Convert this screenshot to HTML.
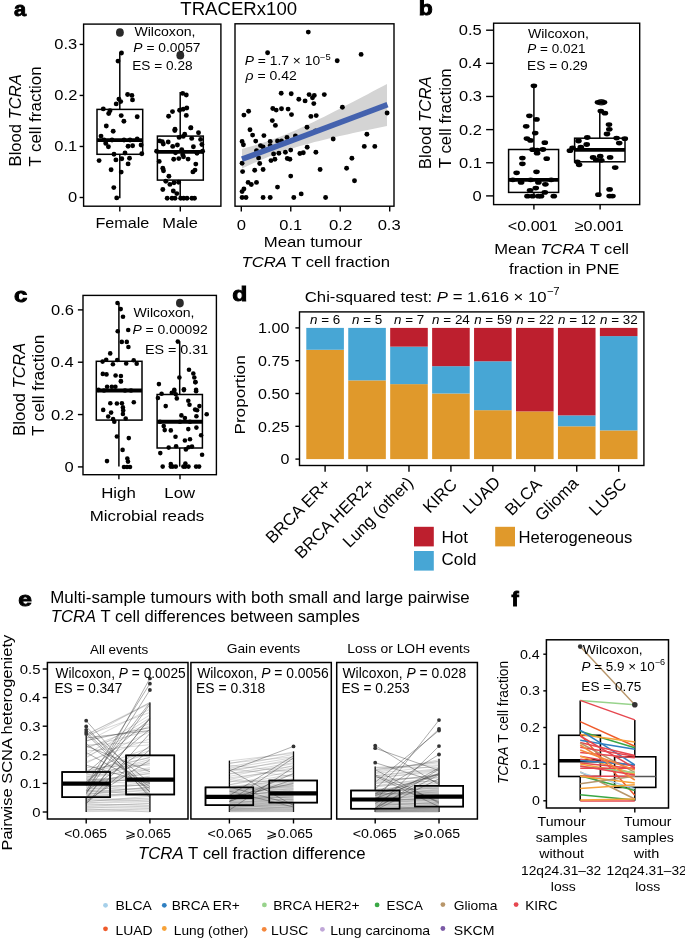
<!DOCTYPE html>
<html><head><meta charset="utf-8"><style>
html,body{margin:0;padding:0;background:#fff;}
svg{display:block;will-change:transform;}
text{font-family:"Liberation Sans", sans-serif;}
</style></head><body>
<svg width="685" height="938" viewBox="0 0 685 938">
<rect width="685" height="938" fill="#fff"/>
<text x="13.96" y="15.80" font-size="20.5" textLength="12.13" lengthAdjust="spacingAndGlyphs" stroke="#000" stroke-width="0.9"><tspan font-weight="bold">a</tspan></text>
<text x="180.31" y="14.80" font-size="19" textLength="116.80" lengthAdjust="spacingAndGlyphs">TRACERx100</text>
<text transform="translate(21.10,166.41) rotate(-90)" font-size="16.5" textLength="92.21" lengthAdjust="spacingAndGlyphs">Blood <tspan font-style="italic">TCRA</tspan></text>
<text transform="translate(41.20,166.81) rotate(-90)" font-size="16.5" textLength="100.55" lengthAdjust="spacingAndGlyphs">T cell fraction</text>
<line x1="79.60" y1="197.50" x2="83.60" y2="197.50" stroke="#000" stroke-width="1.4"/>
<text x="67.92" y="201.80" font-size="15" textLength="9.18" lengthAdjust="spacingAndGlyphs">0</text>
<line x1="79.60" y1="146.47" x2="83.60" y2="146.47" stroke="#000" stroke-width="1.4"/>
<text x="54.28" y="150.77" font-size="15" textLength="22.94" lengthAdjust="spacingAndGlyphs">0.1</text>
<line x1="79.60" y1="95.44" x2="83.60" y2="95.44" stroke="#000" stroke-width="1.4"/>
<text x="54.39" y="99.74" font-size="15" textLength="22.94" lengthAdjust="spacingAndGlyphs">0.2</text>
<line x1="79.60" y1="44.41" x2="83.60" y2="44.41" stroke="#000" stroke-width="1.4"/>
<text x="54.28" y="48.71" font-size="15" textLength="22.94" lengthAdjust="spacingAndGlyphs">0.3</text>
<line x1="119.80" y1="52.20" x2="119.80" y2="109.40" stroke="#000" stroke-width="1.5"/>
<line x1="119.80" y1="154.30" x2="119.80" y2="198.20" stroke="#000" stroke-width="1.5"/>
<rect x="97.00" y="109.40" width="45.70" height="44.90" fill="none" stroke="#000" stroke-width="1.5"/>
<line x1="97.00" y1="140.10" x2="142.70" y2="140.10" stroke="#000" stroke-width="3.8"/>
<line x1="180.20" y1="92.00" x2="180.20" y2="136.10" stroke="#000" stroke-width="1.5"/>
<line x1="180.20" y1="180.10" x2="180.20" y2="198.20" stroke="#000" stroke-width="1.5"/>
<rect x="157.40" y="136.10" width="45.90" height="44.00" fill="none" stroke="#000" stroke-width="1.5"/>
<line x1="157.40" y1="151.90" x2="203.30" y2="151.90" stroke="#000" stroke-width="3.8"/>
<ellipse cx="119.90" cy="32.50" rx="3.9" ry="4.3" fill="#2a2a2a"/>
<ellipse cx="180.30" cy="55.30" rx="3.9" ry="4.3" fill="#2a2a2a"/>
<circle cx="121.50" cy="53.00" r="2.45" fill="#000"/>
<circle cx="118.00" cy="61.10" r="2.45" fill="#000"/>
<circle cx="127.60" cy="94.50" r="2.45" fill="#000"/>
<circle cx="131.90" cy="95.40" r="2.45" fill="#000"/>
<circle cx="132.50" cy="99.90" r="2.45" fill="#000"/>
<circle cx="118.90" cy="99.10" r="2.45" fill="#000"/>
<circle cx="120.70" cy="101.60" r="2.45" fill="#000"/>
<circle cx="116.20" cy="103.90" r="2.45" fill="#000"/>
<circle cx="103.30" cy="108.90" r="2.45" fill="#000"/>
<circle cx="110.00" cy="110.80" r="2.45" fill="#000"/>
<circle cx="108.70" cy="113.50" r="2.45" fill="#000"/>
<circle cx="121.20" cy="115.60" r="2.45" fill="#000"/>
<circle cx="137.20" cy="116.70" r="2.45" fill="#000"/>
<circle cx="123.90" cy="121.20" r="2.45" fill="#000"/>
<circle cx="106.30" cy="126.00" r="2.45" fill="#000"/>
<circle cx="113.20" cy="131.30" r="2.45" fill="#000"/>
<circle cx="101.00" cy="136.10" r="2.45" fill="#000"/>
<circle cx="137.20" cy="138.90" r="2.45" fill="#000"/>
<circle cx="105.80" cy="143.40" r="2.45" fill="#000"/>
<circle cx="108.40" cy="146.80" r="2.45" fill="#000"/>
<circle cx="128.10" cy="146.30" r="2.45" fill="#000"/>
<circle cx="132.60" cy="145.80" r="2.45" fill="#000"/>
<circle cx="141.10" cy="145.00" r="2.45" fill="#000"/>
<circle cx="114.00" cy="154.20" r="2.45" fill="#000"/>
<circle cx="125.00" cy="153.00" r="2.45" fill="#000"/>
<circle cx="141.80" cy="153.80" r="2.45" fill="#000"/>
<circle cx="99.10" cy="160.60" r="2.45" fill="#000"/>
<circle cx="115.90" cy="159.90" r="2.45" fill="#000"/>
<circle cx="121.80" cy="158.80" r="2.45" fill="#000"/>
<circle cx="129.50" cy="158.30" r="2.45" fill="#000"/>
<circle cx="128.10" cy="163.90" r="2.45" fill="#000"/>
<circle cx="111.10" cy="169.80" r="2.45" fill="#000"/>
<circle cx="121.20" cy="172.10" r="2.45" fill="#000"/>
<circle cx="113.80" cy="187.60" r="2.45" fill="#000"/>
<circle cx="116.70" cy="197.90" r="2.45" fill="#000"/>
<circle cx="104.00" cy="140.00" r="2.45" fill="#000"/>
<circle cx="112.00" cy="140.00" r="2.45" fill="#000"/>
<circle cx="124.00" cy="140.00" r="2.45" fill="#000"/>
<circle cx="130.00" cy="140.00" r="2.45" fill="#000"/>
<circle cx="182.70" cy="93.40" r="2.45" fill="#000"/>
<circle cx="186.30" cy="95.00" r="2.45" fill="#000"/>
<circle cx="179.60" cy="110.30" r="2.45" fill="#000"/>
<circle cx="183.20" cy="109.30" r="2.45" fill="#000"/>
<circle cx="186.80" cy="108.00" r="2.45" fill="#000"/>
<circle cx="172.50" cy="111.60" r="2.45" fill="#000"/>
<circle cx="168.60" cy="116.20" r="2.45" fill="#000"/>
<circle cx="186.30" cy="115.40" r="2.45" fill="#000"/>
<circle cx="175.00" cy="129.20" r="2.45" fill="#000"/>
<circle cx="190.90" cy="127.70" r="2.45" fill="#000"/>
<circle cx="174.80" cy="130.50" r="2.45" fill="#000"/>
<circle cx="190.70" cy="127.90" r="2.45" fill="#000"/>
<circle cx="198.50" cy="132.80" r="2.45" fill="#000"/>
<circle cx="184.70" cy="134.30" r="2.45" fill="#000"/>
<circle cx="183.20" cy="136.40" r="2.45" fill="#000"/>
<circle cx="179.10" cy="137.40" r="2.45" fill="#000"/>
<circle cx="191.70" cy="138.40" r="2.45" fill="#000"/>
<circle cx="200.60" cy="139.40" r="2.45" fill="#000"/>
<circle cx="159.70" cy="140.90" r="2.45" fill="#000"/>
<circle cx="162.30" cy="141.70" r="2.45" fill="#000"/>
<circle cx="163.30" cy="144.00" r="2.45" fill="#000"/>
<circle cx="168.20" cy="142.00" r="2.45" fill="#000"/>
<circle cx="172.70" cy="146.40" r="2.45" fill="#000"/>
<circle cx="177.40" cy="145.00" r="2.45" fill="#000"/>
<circle cx="193.40" cy="146.80" r="2.45" fill="#000"/>
<circle cx="201.90" cy="144.50" r="2.45" fill="#000"/>
<circle cx="156.60" cy="151.20" r="2.45" fill="#000"/>
<circle cx="175.50" cy="152.70" r="2.45" fill="#000"/>
<circle cx="181.70" cy="149.60" r="2.45" fill="#000"/>
<circle cx="182.70" cy="154.70" r="2.45" fill="#000"/>
<circle cx="197.00" cy="153.20" r="2.45" fill="#000"/>
<circle cx="202.60" cy="151.20" r="2.45" fill="#000"/>
<circle cx="183.50" cy="156.80" r="2.45" fill="#000"/>
<circle cx="173.70" cy="159.30" r="2.45" fill="#000"/>
<circle cx="178.80" cy="158.60" r="2.45" fill="#000"/>
<circle cx="188.10" cy="159.10" r="2.45" fill="#000"/>
<circle cx="159.20" cy="161.40" r="2.45" fill="#000"/>
<circle cx="195.80" cy="164.10" r="2.45" fill="#000"/>
<circle cx="162.80" cy="168.20" r="2.45" fill="#000"/>
<circle cx="163.50" cy="170.80" r="2.45" fill="#000"/>
<circle cx="195.00" cy="170.10" r="2.45" fill="#000"/>
<circle cx="192.90" cy="171.90" r="2.45" fill="#000"/>
<circle cx="168.90" cy="176.20" r="2.45" fill="#000"/>
<circle cx="165.80" cy="181.30" r="2.45" fill="#000"/>
<circle cx="169.90" cy="184.40" r="2.45" fill="#000"/>
<circle cx="174.00" cy="182.80" r="2.45" fill="#000"/>
<circle cx="178.60" cy="182.30" r="2.45" fill="#000"/>
<circle cx="162.80" cy="189.50" r="2.45" fill="#000"/>
<circle cx="173.30" cy="191.00" r="2.45" fill="#000"/>
<circle cx="176.80" cy="193.60" r="2.45" fill="#000"/>
<circle cx="167.20" cy="198.20" r="2.45" fill="#000"/>
<circle cx="172.00" cy="198.20" r="2.45" fill="#000"/>
<circle cx="175.00" cy="198.20" r="2.45" fill="#000"/>
<circle cx="180.70" cy="198.20" r="2.45" fill="#000"/>
<circle cx="183.70" cy="198.20" r="2.45" fill="#000"/>
<circle cx="187.00" cy="198.20" r="2.45" fill="#000"/>
<circle cx="191.90" cy="198.20" r="2.45" fill="#000"/>
<circle cx="194.50" cy="198.20" r="2.45" fill="#000"/>
<rect x="83.60" y="24.10" width="137.30" height="182.10" fill="none" stroke="#000" stroke-width="1.4"/>
<line x1="119.80" y1="206.20" x2="119.80" y2="211.50" stroke="#000" stroke-width="1.4"/>
<line x1="180.30" y1="206.20" x2="180.30" y2="211.50" stroke="#000" stroke-width="1.4"/>
<text x="95.41" y="228.40" font-size="15" textLength="53.96" lengthAdjust="spacingAndGlyphs">Female</text>
<text x="162.29" y="228.40" font-size="15" textLength="35.58" lengthAdjust="spacingAndGlyphs">Male</text>
<text x="134.40" y="36.00" font-size="13" textLength="61.14" lengthAdjust="spacingAndGlyphs">Wilcoxon,</text>
<text x="133.38" y="51.80" font-size="13" textLength="67.11" lengthAdjust="spacingAndGlyphs"><tspan font-style="italic">P</tspan> = 0.0057</text>
<text x="132.25" y="69.50" font-size="13" textLength="60.34" lengthAdjust="spacingAndGlyphs">ES = 0.28</text>
<polygon points="242.0,148.9 246.8,147.5 251.7,146.2 256.5,144.8 261.3,143.3 266.2,141.7 271.0,140.1 275.8,138.3 280.7,136.5 285.5,134.5 290.3,132.5 295.2,130.4 300.0,128.3 304.8,126.1 309.7,123.8 314.5,121.5 319.3,119.1 324.2,116.7 329.0,114.3 333.8,111.8 338.7,109.3 343.5,106.8 348.3,104.3 353.2,101.8 358.0,99.3 362.8,96.7 367.7,94.2 372.5,91.6 377.3,89.1 382.2,86.5 387.0,83.9 387.0,125.9 382.2,126.9 377.3,127.9 372.5,128.9 367.7,130.0 362.8,131.0 358.0,132.0 353.2,133.1 348.3,134.2 343.5,135.2 338.7,136.3 333.8,137.4 329.0,138.6 324.2,139.7 319.3,140.9 314.5,142.1 309.7,143.4 304.8,144.7 300.0,146.1 295.2,147.5 290.3,149.0 285.5,150.6 280.7,152.2 275.8,154.0 271.0,155.8 266.2,157.8 261.3,159.8 256.5,161.9 251.7,164.0 246.8,166.3 242.0,168.5" fill="#d4d4d4"/>
<circle cx="308.30" cy="32.10" r="2.45" fill="#000"/>
<circle cx="267.60" cy="52.80" r="2.45" fill="#000"/>
<circle cx="337.20" cy="60.70" r="2.45" fill="#000"/>
<circle cx="361.10" cy="54.40" r="2.45" fill="#000"/>
<circle cx="281.20" cy="93.30" r="2.45" fill="#000"/>
<circle cx="291.20" cy="93.80" r="2.45" fill="#000"/>
<circle cx="298.80" cy="99.30" r="2.45" fill="#000"/>
<circle cx="305.10" cy="100.90" r="2.45" fill="#000"/>
<circle cx="309.10" cy="94.60" r="2.45" fill="#000"/>
<circle cx="312.50" cy="97.80" r="2.45" fill="#000"/>
<circle cx="314.30" cy="95.40" r="2.45" fill="#000"/>
<circle cx="313.80" cy="103.60" r="2.45" fill="#000"/>
<circle cx="324.30" cy="94.60" r="2.45" fill="#000"/>
<circle cx="342.40" cy="107.20" r="2.45" fill="#000"/>
<circle cx="387.10" cy="113.00" r="2.45" fill="#000"/>
<circle cx="243.90" cy="115.10" r="2.45" fill="#000"/>
<circle cx="248.60" cy="111.20" r="2.45" fill="#000"/>
<circle cx="272.80" cy="108.50" r="2.45" fill="#000"/>
<circle cx="276.20" cy="110.10" r="2.45" fill="#000"/>
<circle cx="281.50" cy="108.80" r="2.45" fill="#000"/>
<circle cx="288.10" cy="109.10" r="2.45" fill="#000"/>
<circle cx="291.50" cy="114.60" r="2.45" fill="#000"/>
<circle cx="310.90" cy="116.40" r="2.45" fill="#000"/>
<circle cx="316.20" cy="115.60" r="2.45" fill="#000"/>
<circle cx="272.30" cy="120.60" r="2.45" fill="#000"/>
<circle cx="275.40" cy="125.40" r="2.45" fill="#000"/>
<circle cx="250.00" cy="129.80" r="2.45" fill="#000"/>
<circle cx="252.60" cy="135.10" r="2.45" fill="#000"/>
<circle cx="263.90" cy="135.60" r="2.45" fill="#000"/>
<circle cx="242.10" cy="141.40" r="2.45" fill="#000"/>
<circle cx="243.40" cy="144.80" r="2.45" fill="#000"/>
<circle cx="255.70" cy="141.10" r="2.45" fill="#000"/>
<circle cx="260.50" cy="145.60" r="2.45" fill="#000"/>
<circle cx="263.10" cy="146.90" r="2.45" fill="#000"/>
<circle cx="270.20" cy="141.40" r="2.45" fill="#000"/>
<circle cx="270.20" cy="145.60" r="2.45" fill="#000"/>
<circle cx="277.50" cy="140.90" r="2.45" fill="#000"/>
<circle cx="281.50" cy="140.90" r="2.45" fill="#000"/>
<circle cx="287.00" cy="137.40" r="2.45" fill="#000"/>
<circle cx="295.40" cy="135.90" r="2.45" fill="#000"/>
<circle cx="307.00" cy="127.20" r="2.45" fill="#000"/>
<circle cx="315.60" cy="130.90" r="2.45" fill="#000"/>
<circle cx="333.20" cy="139.00" r="2.45" fill="#000"/>
<circle cx="366.90" cy="134.30" r="2.45" fill="#000"/>
<circle cx="364.30" cy="146.40" r="2.45" fill="#000"/>
<circle cx="374.80" cy="146.40" r="2.45" fill="#000"/>
<circle cx="256.50" cy="150.60" r="2.45" fill="#000"/>
<circle cx="258.60" cy="157.90" r="2.45" fill="#000"/>
<circle cx="273.60" cy="154.00" r="2.45" fill="#000"/>
<circle cx="278.90" cy="153.20" r="2.45" fill="#000"/>
<circle cx="285.40" cy="152.20" r="2.45" fill="#000"/>
<circle cx="290.70" cy="150.10" r="2.45" fill="#000"/>
<circle cx="299.90" cy="153.50" r="2.45" fill="#000"/>
<circle cx="303.30" cy="152.70" r="2.45" fill="#000"/>
<circle cx="307.20" cy="147.20" r="2.45" fill="#000"/>
<circle cx="315.90" cy="152.20" r="2.45" fill="#000"/>
<circle cx="274.90" cy="159.30" r="2.45" fill="#000"/>
<circle cx="271.00" cy="160.60" r="2.45" fill="#000"/>
<circle cx="287.30" cy="158.50" r="2.45" fill="#000"/>
<circle cx="289.90" cy="159.30" r="2.45" fill="#000"/>
<circle cx="242.10" cy="163.20" r="2.45" fill="#000"/>
<circle cx="259.70" cy="163.50" r="2.45" fill="#000"/>
<circle cx="242.60" cy="171.60" r="2.45" fill="#000"/>
<circle cx="254.70" cy="170.30" r="2.45" fill="#000"/>
<circle cx="263.10" cy="169.50" r="2.45" fill="#000"/>
<circle cx="320.10" cy="169.50" r="2.45" fill="#000"/>
<circle cx="346.60" cy="168.20" r="2.45" fill="#000"/>
<circle cx="351.90" cy="158.20" r="2.45" fill="#000"/>
<circle cx="290.70" cy="176.10" r="2.45" fill="#000"/>
<circle cx="354.50" cy="180.80" r="2.45" fill="#000"/>
<circle cx="248.10" cy="182.40" r="2.45" fill="#000"/>
<circle cx="251.30" cy="184.50" r="2.45" fill="#000"/>
<circle cx="256.50" cy="182.40" r="2.45" fill="#000"/>
<circle cx="277.50" cy="187.10" r="2.45" fill="#000"/>
<circle cx="243.90" cy="188.90" r="2.45" fill="#000"/>
<circle cx="242.10" cy="191.60" r="2.45" fill="#000"/>
<circle cx="242.10" cy="197.50" r="2.45" fill="#000"/>
<circle cx="246.00" cy="197.50" r="2.45" fill="#000"/>
<circle cx="263.10" cy="197.50" r="2.45" fill="#000"/>
<circle cx="270.20" cy="197.50" r="2.45" fill="#000"/>
<circle cx="293.80" cy="197.50" r="2.45" fill="#000"/>
<circle cx="301.20" cy="193.90" r="2.45" fill="#000"/>
<circle cx="325.60" cy="197.50" r="2.45" fill="#000"/>
<line x1="242.00" y1="159.20" x2="387.50" y2="104.70" stroke="#4462ae" stroke-width="5.6"/>
<rect x="235.00" y="23.80" width="159.00" height="182.40" fill="none" stroke="#000" stroke-width="1.4"/>
<line x1="241.30" y1="206.20" x2="241.30" y2="211.50" stroke="#000" stroke-width="1.4"/>
<line x1="290.77" y1="206.20" x2="290.77" y2="211.50" stroke="#000" stroke-width="1.4"/>
<line x1="340.24" y1="206.20" x2="340.24" y2="211.50" stroke="#000" stroke-width="1.4"/>
<line x1="389.71" y1="206.20" x2="389.71" y2="211.50" stroke="#000" stroke-width="1.4"/>
<text x="236.85" y="229.90" font-size="15" textLength="9.26" lengthAdjust="spacingAndGlyphs">0</text>
<text x="279.25" y="229.90" font-size="15" textLength="22.86" lengthAdjust="spacingAndGlyphs">0.1</text>
<text x="329.04" y="229.90" font-size="15" textLength="23.30" lengthAdjust="spacingAndGlyphs">0.2</text>
<text x="377.65" y="229.90" font-size="15" textLength="23.07" lengthAdjust="spacingAndGlyphs">0.3</text>
<text x="263.74" y="246.80" font-size="14.7" textLength="98.50" lengthAdjust="spacingAndGlyphs">Mean tumour</text>
<text x="241.53" y="266.50" font-size="14.7" textLength="148.47" lengthAdjust="spacingAndGlyphs"><tspan font-style="italic">TCRA</tspan> T cell fraction</text>
<text x="244.77" y="64.80" font-size="12.5" textLength="86.07" lengthAdjust="spacingAndGlyphs"><tspan font-style="italic">P</tspan> = 1.7 × 10<tspan dy="-5.25" font-size="8.50">−5</tspan></text>
<text x="245.55" y="79.70" font-size="12.5" textLength="51.25" lengthAdjust="spacingAndGlyphs"><tspan font-style="italic">ρ</tspan> = 0.42</text>
<text x="418.65" y="15.30" font-size="20.5" textLength="13.97" lengthAdjust="spacingAndGlyphs" stroke="#000" stroke-width="0.9"><tspan font-weight="bold">b</tspan></text>
<line x1="486.10" y1="195.90" x2="493.60" y2="195.90" stroke="#000" stroke-width="1.4"/>
<text x="472.62" y="200.90" font-size="15" textLength="9.18" lengthAdjust="spacingAndGlyphs">0</text>
<line x1="486.10" y1="162.76" x2="493.60" y2="162.76" stroke="#000" stroke-width="1.4"/>
<text x="458.98" y="167.76" font-size="15" textLength="22.94" lengthAdjust="spacingAndGlyphs">0.1</text>
<line x1="486.10" y1="129.62" x2="493.60" y2="129.62" stroke="#000" stroke-width="1.4"/>
<text x="459.09" y="134.62" font-size="15" textLength="22.94" lengthAdjust="spacingAndGlyphs">0.2</text>
<line x1="486.10" y1="96.48" x2="493.60" y2="96.48" stroke="#000" stroke-width="1.4"/>
<text x="458.98" y="101.48" font-size="15" textLength="22.94" lengthAdjust="spacingAndGlyphs">0.3</text>
<line x1="486.10" y1="63.34" x2="493.60" y2="63.34" stroke="#000" stroke-width="1.4"/>
<text x="458.65" y="68.34" font-size="15" textLength="22.94" lengthAdjust="spacingAndGlyphs">0.4</text>
<line x1="486.10" y1="30.20" x2="493.60" y2="30.20" stroke="#000" stroke-width="1.4"/>
<text x="458.87" y="35.20" font-size="15" textLength="22.94" lengthAdjust="spacingAndGlyphs">0.5</text>
<text transform="translate(431.30,169.22) rotate(-90)" font-size="16.5" textLength="92.82" lengthAdjust="spacingAndGlyphs">Blood <tspan font-style="italic">TCRA</tspan></text>
<text transform="translate(451.00,168.21) rotate(-90)" font-size="16.5" textLength="99.84" lengthAdjust="spacingAndGlyphs">T cell fraction</text>
<line x1="533.90" y1="85.80" x2="533.90" y2="149.50" stroke="#000" stroke-width="1.5"/>
<line x1="533.90" y1="192.40" x2="533.90" y2="195.80" stroke="#000" stroke-width="1.5"/>
<rect x="508.60" y="149.50" width="50.00" height="42.90" fill="none" stroke="#000" stroke-width="1.5"/>
<line x1="508.60" y1="179.80" x2="558.60" y2="179.80" stroke="#000" stroke-width="3.8"/>
<line x1="599.80" y1="112.30" x2="599.80" y2="138.20" stroke="#000" stroke-width="1.5"/>
<line x1="599.80" y1="161.80" x2="599.80" y2="195.80" stroke="#000" stroke-width="1.5"/>
<rect x="574.60" y="138.20" width="50.40" height="23.60" fill="none" stroke="#000" stroke-width="1.5"/>
<line x1="574.60" y1="149.80" x2="625.00" y2="149.80" stroke="#000" stroke-width="3.8"/>
<ellipse cx="601.30" cy="102.30" rx="4.5" ry="3.2" fill="#2a2a2a"/>
<ellipse cx="533.90" cy="85.80" rx="3.3" ry="2.4" fill="#000"/>
<ellipse cx="529.40" cy="115.80" rx="3.3" ry="2.4" fill="#000"/>
<ellipse cx="536.50" cy="119.40" rx="3.3" ry="2.4" fill="#000"/>
<ellipse cx="526.20" cy="126.30" rx="3.3" ry="2.4" fill="#000"/>
<ellipse cx="535.20" cy="133.10" rx="3.3" ry="2.4" fill="#000"/>
<ellipse cx="526.90" cy="138.60" rx="3.3" ry="2.4" fill="#000"/>
<ellipse cx="530.50" cy="140.40" rx="3.3" ry="2.4" fill="#000"/>
<ellipse cx="544.80" cy="142.70" rx="3.3" ry="2.4" fill="#000"/>
<ellipse cx="532.60" cy="149.70" rx="3.3" ry="2.4" fill="#000"/>
<ellipse cx="537.10" cy="150.10" rx="3.3" ry="2.4" fill="#000"/>
<ellipse cx="542.90" cy="149.50" rx="3.3" ry="2.4" fill="#000"/>
<ellipse cx="537.10" cy="153.20" rx="3.3" ry="2.4" fill="#000"/>
<ellipse cx="522.40" cy="158.10" rx="3.3" ry="2.4" fill="#000"/>
<ellipse cx="546.70" cy="158.70" rx="3.3" ry="2.4" fill="#000"/>
<ellipse cx="522.40" cy="163.80" rx="3.3" ry="2.4" fill="#000"/>
<ellipse cx="516.60" cy="172.80" rx="3.3" ry="2.4" fill="#000"/>
<ellipse cx="536.50" cy="171.80" rx="3.3" ry="2.4" fill="#000"/>
<ellipse cx="512.80" cy="179.80" rx="3.3" ry="2.4" fill="#000"/>
<ellipse cx="521.10" cy="182.40" rx="3.3" ry="2.4" fill="#000"/>
<ellipse cx="530.70" cy="179.80" rx="3.3" ry="2.4" fill="#000"/>
<ellipse cx="538.40" cy="182.40" rx="3.3" ry="2.4" fill="#000"/>
<ellipse cx="545.40" cy="184.30" rx="3.3" ry="2.4" fill="#000"/>
<ellipse cx="551.20" cy="179.80" rx="3.3" ry="2.4" fill="#000"/>
<ellipse cx="535.80" cy="188.10" rx="3.3" ry="2.4" fill="#000"/>
<ellipse cx="530.10" cy="190.30" rx="3.3" ry="2.4" fill="#000"/>
<ellipse cx="544.80" cy="192.40" rx="3.3" ry="2.4" fill="#000"/>
<ellipse cx="527.50" cy="196.20" rx="3.3" ry="2.4" fill="#000"/>
<ellipse cx="532.60" cy="196.20" rx="3.3" ry="2.4" fill="#000"/>
<ellipse cx="538.40" cy="196.20" rx="3.3" ry="2.4" fill="#000"/>
<ellipse cx="541.00" cy="196.20" rx="3.3" ry="2.4" fill="#000"/>
<ellipse cx="553.80" cy="196.20" rx="3.3" ry="2.4" fill="#000"/>
<ellipse cx="600.80" cy="111.10" rx="3.3" ry="2.4" fill="#000"/>
<ellipse cx="604.90" cy="113.20" rx="3.3" ry="2.4" fill="#000"/>
<ellipse cx="609.00" cy="124.60" rx="3.3" ry="2.4" fill="#000"/>
<ellipse cx="609.30" cy="129.30" rx="3.3" ry="2.4" fill="#000"/>
<ellipse cx="607.00" cy="134.00" rx="3.3" ry="2.4" fill="#000"/>
<ellipse cx="587.30" cy="137.50" rx="3.3" ry="2.4" fill="#000"/>
<ellipse cx="616.60" cy="138.10" rx="3.3" ry="2.4" fill="#000"/>
<ellipse cx="624.80" cy="138.70" rx="3.3" ry="2.4" fill="#000"/>
<ellipse cx="578.50" cy="141.00" rx="3.3" ry="2.4" fill="#000"/>
<ellipse cx="619.20" cy="143.10" rx="3.3" ry="2.4" fill="#000"/>
<ellipse cx="586.70" cy="144.50" rx="3.3" ry="2.4" fill="#000"/>
<ellipse cx="580.80" cy="147.20" rx="3.3" ry="2.4" fill="#000"/>
<ellipse cx="572.60" cy="148.00" rx="3.3" ry="2.4" fill="#000"/>
<ellipse cx="569.90" cy="150.70" rx="3.3" ry="2.4" fill="#000"/>
<ellipse cx="593.10" cy="157.40" rx="3.3" ry="2.4" fill="#000"/>
<ellipse cx="600.20" cy="156.20" rx="3.3" ry="2.4" fill="#000"/>
<ellipse cx="596.10" cy="159.80" rx="3.3" ry="2.4" fill="#000"/>
<ellipse cx="601.30" cy="160.30" rx="3.3" ry="2.4" fill="#000"/>
<ellipse cx="610.10" cy="157.40" rx="3.3" ry="2.4" fill="#000"/>
<ellipse cx="577.30" cy="161.80" rx="3.3" ry="2.4" fill="#000"/>
<ellipse cx="579.10" cy="164.80" rx="3.3" ry="2.4" fill="#000"/>
<ellipse cx="615.20" cy="167.60" rx="3.3" ry="2.4" fill="#000"/>
<ellipse cx="609.60" cy="189.40" rx="3.3" ry="2.4" fill="#000"/>
<ellipse cx="598.40" cy="194.70" rx="3.3" ry="2.4" fill="#000"/>
<ellipse cx="609.60" cy="196.10" rx="3.3" ry="2.4" fill="#000"/>
<ellipse cx="612.50" cy="196.10" rx="3.3" ry="2.4" fill="#000"/>
<ellipse cx="598.00" cy="102.30" rx="3.3" ry="2.4" fill="#000"/>
<ellipse cx="604.00" cy="102.30" rx="3.3" ry="2.4" fill="#000"/>
<rect x="493.60" y="23.20" width="146.10" height="181.40" fill="none" stroke="#000" stroke-width="1.4"/>
<line x1="533.90" y1="204.60" x2="533.90" y2="209.40" stroke="#000" stroke-width="1.4"/>
<line x1="600.10" y1="204.60" x2="600.10" y2="209.40" stroke="#000" stroke-width="1.4"/>
<text x="507.85" y="230.80" font-size="15" textLength="49.59" lengthAdjust="spacingAndGlyphs">&lt;0.001</text>
<text x="574.57" y="230.80" font-size="15" textLength="49.25" lengthAdjust="spacingAndGlyphs">≥0.001</text>
<text x="494.17" y="253.80" font-size="15" textLength="134.81" lengthAdjust="spacingAndGlyphs">Mean <tspan font-style="italic">TCRA</tspan> T cell</text>
<text x="509.08" y="273.90" font-size="15" textLength="110.33" lengthAdjust="spacingAndGlyphs">fraction in PNE</text>
<text x="527.90" y="37.80" font-size="12.8" textLength="60.99" lengthAdjust="spacingAndGlyphs">Wilcoxon,</text>
<text x="527.28" y="52.60" font-size="12.8" textLength="58.21" lengthAdjust="spacingAndGlyphs"><tspan font-style="italic">P</tspan> = 0.021</text>
<text x="527.13" y="70.10" font-size="12.8" textLength="60.58" lengthAdjust="spacingAndGlyphs">ES = 0.29</text>
<text x="13.96" y="301.70" font-size="20.5" textLength="13.34" lengthAdjust="spacingAndGlyphs" stroke="#000" stroke-width="0.9"><tspan font-weight="bold">c</tspan></text>
<line x1="77.90" y1="466.90" x2="83.00" y2="466.90" stroke="#000" stroke-width="1.4"/>
<text x="64.62" y="471.90" font-size="15" textLength="9.18" lengthAdjust="spacingAndGlyphs">0</text>
<line x1="77.90" y1="414.56" x2="83.00" y2="414.56" stroke="#000" stroke-width="1.4"/>
<text x="51.09" y="419.56" font-size="15" textLength="22.94" lengthAdjust="spacingAndGlyphs">0.2</text>
<line x1="77.90" y1="362.22" x2="83.00" y2="362.22" stroke="#000" stroke-width="1.4"/>
<text x="50.65" y="367.22" font-size="15" textLength="22.94" lengthAdjust="spacingAndGlyphs">0.4</text>
<line x1="77.90" y1="309.88" x2="83.00" y2="309.88" stroke="#000" stroke-width="1.4"/>
<text x="50.98" y="314.88" font-size="15" textLength="22.94" lengthAdjust="spacingAndGlyphs">0.6</text>
<text transform="translate(24.90,436.02) rotate(-90)" font-size="16.5" textLength="93.23" lengthAdjust="spacingAndGlyphs">Blood <tspan font-style="italic">TCRA</tspan></text>
<text transform="translate(43.60,436.01) rotate(-90)" font-size="16.5" textLength="101.16" lengthAdjust="spacingAndGlyphs">T cell fraction</text>
<line x1="118.90" y1="303.00" x2="118.90" y2="361.30" stroke="#000" stroke-width="1.5"/>
<line x1="118.90" y1="420.10" x2="118.90" y2="466.60" stroke="#000" stroke-width="1.5"/>
<rect x="96.30" y="361.30" width="45.70" height="58.80" fill="none" stroke="#000" stroke-width="1.5"/>
<line x1="96.30" y1="390.40" x2="142.00" y2="390.40" stroke="#000" stroke-width="4.0"/>
<line x1="179.70" y1="341.30" x2="179.70" y2="394.50" stroke="#000" stroke-width="1.5"/>
<line x1="179.70" y1="448.00" x2="179.70" y2="466.60" stroke="#000" stroke-width="1.5"/>
<rect x="157.10" y="394.50" width="45.30" height="53.50" fill="none" stroke="#000" stroke-width="1.5"/>
<line x1="157.10" y1="421.70" x2="202.40" y2="421.70" stroke="#000" stroke-width="4.0"/>
<ellipse cx="179.90" cy="303.10" rx="3.9" ry="4.3" fill="#2a2a2a"/>
<circle cx="117.50" cy="303.00" r="2.3" fill="#000"/>
<circle cx="120.70" cy="309.10" r="2.3" fill="#000"/>
<circle cx="123.00" cy="316.80" r="2.3" fill="#000"/>
<circle cx="117.70" cy="331.20" r="2.3" fill="#000"/>
<circle cx="128.20" cy="330.00" r="2.3" fill="#000"/>
<circle cx="121.80" cy="341.90" r="2.3" fill="#000"/>
<circle cx="126.80" cy="341.90" r="2.3" fill="#000"/>
<circle cx="128.40" cy="347.00" r="2.3" fill="#000"/>
<circle cx="110.20" cy="353.40" r="2.3" fill="#000"/>
<circle cx="102.60" cy="361.60" r="2.3" fill="#000"/>
<circle cx="106.20" cy="359.80" r="2.3" fill="#000"/>
<circle cx="112.90" cy="364.30" r="2.3" fill="#000"/>
<circle cx="117.20" cy="360.00" r="2.3" fill="#000"/>
<circle cx="126.20" cy="363.50" r="2.3" fill="#000"/>
<circle cx="133.70" cy="360.20" r="2.3" fill="#000"/>
<circle cx="136.70" cy="363.70" r="2.3" fill="#000"/>
<circle cx="102.80" cy="373.90" r="2.3" fill="#000"/>
<circle cx="106.50" cy="374.40" r="2.3" fill="#000"/>
<circle cx="115.60" cy="375.50" r="2.3" fill="#000"/>
<circle cx="120.90" cy="376.00" r="2.3" fill="#000"/>
<circle cx="120.90" cy="381.10" r="2.3" fill="#000"/>
<circle cx="107.10" cy="386.70" r="2.3" fill="#000"/>
<circle cx="111.80" cy="386.70" r="2.3" fill="#000"/>
<circle cx="115.40" cy="386.70" r="2.3" fill="#000"/>
<circle cx="98.50" cy="389.90" r="2.3" fill="#000"/>
<circle cx="120.90" cy="381.50" r="2.3" fill="#000"/>
<circle cx="110.30" cy="403.30" r="2.3" fill="#000"/>
<circle cx="116.90" cy="403.50" r="2.3" fill="#000"/>
<circle cx="121.90" cy="403.30" r="2.3" fill="#000"/>
<circle cx="133.80" cy="402.30" r="2.3" fill="#000"/>
<circle cx="103.20" cy="409.90" r="2.3" fill="#000"/>
<circle cx="122.90" cy="407.40" r="2.3" fill="#000"/>
<circle cx="123.20" cy="410.40" r="2.3" fill="#000"/>
<circle cx="122.90" cy="414.00" r="2.3" fill="#000"/>
<circle cx="111.10" cy="412.60" r="2.3" fill="#000"/>
<circle cx="108.20" cy="416.50" r="2.3" fill="#000"/>
<circle cx="113.10" cy="419.00" r="2.3" fill="#000"/>
<circle cx="114.30" cy="421.80" r="2.3" fill="#000"/>
<circle cx="125.70" cy="418.50" r="2.3" fill="#000"/>
<circle cx="116.90" cy="436.50" r="2.3" fill="#000"/>
<circle cx="128.80" cy="438.10" r="2.3" fill="#000"/>
<circle cx="122.60" cy="449.90" r="2.3" fill="#000"/>
<circle cx="107.00" cy="461.10" r="2.3" fill="#000"/>
<circle cx="127.30" cy="458.50" r="2.3" fill="#000"/>
<circle cx="128.00" cy="461.60" r="2.3" fill="#000"/>
<circle cx="124.00" cy="467.00" r="2.3" fill="#000"/>
<circle cx="127.00" cy="467.00" r="2.3" fill="#000"/>
<circle cx="130.00" cy="467.00" r="2.3" fill="#000"/>
<circle cx="104.00" cy="390.50" r="2.3" fill="#000"/>
<circle cx="125.00" cy="390.50" r="2.3" fill="#000"/>
<circle cx="131.00" cy="390.50" r="2.3" fill="#000"/>
<circle cx="177.80" cy="341.60" r="2.3" fill="#000"/>
<circle cx="189.00" cy="369.70" r="2.3" fill="#000"/>
<circle cx="193.30" cy="373.50" r="2.3" fill="#000"/>
<circle cx="194.30" cy="377.50" r="2.3" fill="#000"/>
<circle cx="195.40" cy="382.10" r="2.3" fill="#000"/>
<circle cx="179.40" cy="377.50" r="2.3" fill="#000"/>
<circle cx="158.90" cy="384.10" r="2.3" fill="#000"/>
<circle cx="183.90" cy="389.20" r="2.3" fill="#000"/>
<circle cx="174.30" cy="389.70" r="2.3" fill="#000"/>
<circle cx="196.10" cy="389.70" r="2.3" fill="#000"/>
<circle cx="195.40" cy="382.20" r="2.3" fill="#000"/>
<circle cx="183.90" cy="390.10" r="2.3" fill="#000"/>
<circle cx="196.10" cy="391.30" r="2.3" fill="#000"/>
<circle cx="161.60" cy="393.70" r="2.3" fill="#000"/>
<circle cx="171.80" cy="392.70" r="2.3" fill="#000"/>
<circle cx="174.30" cy="391.10" r="2.3" fill="#000"/>
<circle cx="175.80" cy="394.20" r="2.3" fill="#000"/>
<circle cx="157.90" cy="398.00" r="2.3" fill="#000"/>
<circle cx="176.80" cy="398.40" r="2.3" fill="#000"/>
<circle cx="188.30" cy="400.80" r="2.3" fill="#000"/>
<circle cx="189.50" cy="404.80" r="2.3" fill="#000"/>
<circle cx="165.70" cy="406.10" r="2.3" fill="#000"/>
<circle cx="199.40" cy="406.10" r="2.3" fill="#000"/>
<circle cx="195.10" cy="409.60" r="2.3" fill="#000"/>
<circle cx="197.10" cy="410.20" r="2.3" fill="#000"/>
<circle cx="206.70" cy="414.20" r="2.3" fill="#000"/>
<circle cx="181.40" cy="415.40" r="2.3" fill="#000"/>
<circle cx="184.90" cy="418.00" r="2.3" fill="#000"/>
<circle cx="196.40" cy="416.20" r="2.3" fill="#000"/>
<circle cx="163.70" cy="426.10" r="2.3" fill="#000"/>
<circle cx="164.70" cy="430.10" r="2.3" fill="#000"/>
<circle cx="170.80" cy="430.40" r="2.3" fill="#000"/>
<circle cx="188.30" cy="429.10" r="2.3" fill="#000"/>
<circle cx="196.40" cy="427.60" r="2.3" fill="#000"/>
<circle cx="201.10" cy="435.20" r="2.3" fill="#000"/>
<circle cx="175.50" cy="436.70" r="2.3" fill="#000"/>
<circle cx="184.90" cy="440.50" r="2.3" fill="#000"/>
<circle cx="190.00" cy="439.20" r="2.3" fill="#000"/>
<circle cx="168.70" cy="447.60" r="2.3" fill="#000"/>
<circle cx="176.10" cy="446.30" r="2.3" fill="#000"/>
<circle cx="185.90" cy="449.40" r="2.3" fill="#000"/>
<circle cx="188.50" cy="447.30" r="2.3" fill="#000"/>
<circle cx="192.00" cy="446.60" r="2.3" fill="#000"/>
<circle cx="160.30" cy="453.10" r="2.3" fill="#000"/>
<circle cx="202.10" cy="454.70" r="2.3" fill="#000"/>
<circle cx="162.70" cy="466.60" r="2.3" fill="#000"/>
<circle cx="170.80" cy="466.60" r="2.3" fill="#000"/>
<circle cx="172.80" cy="466.60" r="2.3" fill="#000"/>
<circle cx="175.80" cy="466.60" r="2.3" fill="#000"/>
<circle cx="183.40" cy="466.60" r="2.3" fill="#000"/>
<circle cx="185.20" cy="466.60" r="2.3" fill="#000"/>
<circle cx="188.50" cy="466.60" r="2.3" fill="#000"/>
<circle cx="196.10" cy="466.60" r="2.3" fill="#000"/>
<circle cx="199.10" cy="466.60" r="2.3" fill="#000"/>
<circle cx="170.80" cy="464.00" r="2.3" fill="#000"/>
<circle cx="185.40" cy="463.50" r="2.3" fill="#000"/>
<circle cx="160.00" cy="421.70" r="2.3" fill="#000"/>
<circle cx="180.00" cy="421.70" r="2.3" fill="#000"/>
<circle cx="190.00" cy="421.70" r="2.3" fill="#000"/>
<rect x="83.00" y="295.40" width="133.40" height="179.30" fill="none" stroke="#000" stroke-width="1.4"/>
<line x1="118.90" y1="474.60" x2="118.90" y2="479.30" stroke="#000" stroke-width="1.4"/>
<line x1="180.00" y1="474.60" x2="180.00" y2="479.30" stroke="#000" stroke-width="1.4"/>
<text x="101.15" y="497.70" font-size="15" textLength="34.61" lengthAdjust="spacingAndGlyphs">High</text>
<text x="164.36" y="497.70" font-size="15" textLength="30.64" lengthAdjust="spacingAndGlyphs">Low</text>
<text x="89.79" y="520.80" font-size="15.5" textLength="114.45" lengthAdjust="spacingAndGlyphs">Microbial reads</text>
<text x="133.50" y="316.80" font-size="13" textLength="61.04" lengthAdjust="spacingAndGlyphs">Wilcoxon,</text>
<text x="132.47" y="333.90" font-size="13" textLength="75.35" lengthAdjust="spacingAndGlyphs"><tspan font-style="italic">P</tspan> = 0.00092</text>
<text x="144.90" y="353.60" font-size="13" textLength="63.33" lengthAdjust="spacingAndGlyphs">ES = 0.31</text>
<text x="232.34" y="301.30" font-size="20.5" textLength="15.05" lengthAdjust="spacingAndGlyphs" stroke="#000" stroke-width="0.9"><tspan font-weight="bold">d</tspan></text>
<text x="304.74" y="301.80" font-size="15.5" textLength="254.89" lengthAdjust="spacingAndGlyphs">Chi-squared test: <tspan font-style="italic">P</tspan> = 1.616 × 10<tspan dy="-6.51" font-size="10.54">−7</tspan></text>
<line x1="295.40" y1="459.10" x2="299.50" y2="459.10" stroke="#000" stroke-width="1.4"/>
<text x="280.44" y="464.40" font-size="14.6" textLength="8.93" lengthAdjust="spacingAndGlyphs">0</text>
<line x1="295.40" y1="426.30" x2="299.50" y2="426.30" stroke="#000" stroke-width="1.4"/>
<text x="258.11" y="431.60" font-size="14.6" textLength="31.26" lengthAdjust="spacingAndGlyphs">0.25</text>
<line x1="295.40" y1="393.50" x2="299.50" y2="393.50" stroke="#000" stroke-width="1.4"/>
<text x="258.11" y="398.80" font-size="14.6" textLength="31.26" lengthAdjust="spacingAndGlyphs">0.50</text>
<line x1="295.40" y1="360.70" x2="299.50" y2="360.70" stroke="#000" stroke-width="1.4"/>
<text x="258.11" y="366.00" font-size="14.6" textLength="31.26" lengthAdjust="spacingAndGlyphs">0.75</text>
<line x1="295.40" y1="327.90" x2="299.50" y2="327.90" stroke="#000" stroke-width="1.4"/>
<text x="258.11" y="333.20" font-size="14.6" textLength="31.26" lengthAdjust="spacingAndGlyphs">1.00</text>
<text transform="translate(245.40,434.58) rotate(-90)" font-size="15" textLength="79.31" lengthAdjust="spacingAndGlyphs">Proportion</text>
<rect x="306.30" y="349.77" width="37.6" height="109.33" fill="#e0992b"/>
<rect x="306.30" y="327.90" width="37.6" height="21.87" fill="#47a6d5"/>
<text x="310.09" y="324.30" font-size="12" textLength="30.27" lengthAdjust="spacingAndGlyphs"><tspan font-style="italic">n</tspan> = 6</text>
<line x1="325.10" y1="465.50" x2="325.10" y2="471.80" stroke="#000" stroke-width="1.4"/>
<text transform="translate(331.6,485.3) rotate(-45)" font-size="16.8" text-anchor="end">BRCA ER+</text>
<rect x="348.24" y="380.38" width="37.6" height="78.72" fill="#e0992b"/>
<rect x="348.24" y="327.90" width="37.6" height="52.48" fill="#47a6d5"/>
<text x="352.03" y="324.30" font-size="12" textLength="30.27" lengthAdjust="spacingAndGlyphs"><tspan font-style="italic">n</tspan> = 5</text>
<line x1="367.04" y1="465.50" x2="367.04" y2="471.80" stroke="#000" stroke-width="1.4"/>
<text transform="translate(375.7,485.3) rotate(-45)" font-size="16.8" text-anchor="end">BRCA HER2+</text>
<rect x="390.18" y="384.13" width="37.6" height="74.97" fill="#e0992b"/>
<rect x="390.18" y="346.64" width="37.6" height="37.49" fill="#47a6d5"/>
<rect x="390.18" y="327.90" width="37.6" height="18.74" fill="#bd1f2e"/>
<text x="394.03" y="324.30" font-size="12" textLength="30.27" lengthAdjust="spacingAndGlyphs"><tspan font-style="italic">n</tspan> = 7</text>
<line x1="408.98" y1="465.50" x2="408.98" y2="471.80" stroke="#000" stroke-width="1.4"/>
<text transform="translate(414.2,483.9) rotate(-45)" font-size="16.8" text-anchor="end">Lung (other)</text>
<rect x="432.12" y="393.50" width="37.6" height="65.60" fill="#e0992b"/>
<rect x="432.12" y="366.17" width="37.6" height="27.33" fill="#47a6d5"/>
<rect x="432.12" y="327.90" width="37.6" height="38.27" fill="#bd1f2e"/>
<text x="432.10" y="324.30" font-size="12" textLength="37.74" lengthAdjust="spacingAndGlyphs"><tspan font-style="italic">n</tspan> = 24</text>
<line x1="450.92" y1="465.50" x2="450.92" y2="471.80" stroke="#000" stroke-width="1.4"/>
<text transform="translate(458,485.6) rotate(-45)" font-size="16.8" text-anchor="end">KIRC</text>
<rect x="474.06" y="410.18" width="37.6" height="48.92" fill="#e0992b"/>
<rect x="474.06" y="361.26" width="37.6" height="48.92" fill="#47a6d5"/>
<rect x="474.06" y="327.90" width="37.6" height="33.36" fill="#bd1f2e"/>
<text x="474.16" y="324.30" font-size="12" textLength="37.74" lengthAdjust="spacingAndGlyphs"><tspan font-style="italic">n</tspan> = 59</text>
<line x1="492.86" y1="465.50" x2="492.86" y2="471.80" stroke="#000" stroke-width="1.4"/>
<text transform="translate(501.4,483.4) rotate(-45)" font-size="16.8" text-anchor="end">LUAD</text>
<rect x="516.00" y="411.39" width="37.6" height="47.71" fill="#e0992b"/>
<rect x="516.00" y="327.90" width="37.6" height="83.49" fill="#bd1f2e"/>
<text x="516.15" y="324.30" font-size="12" textLength="37.74" lengthAdjust="spacingAndGlyphs"><tspan font-style="italic">n</tspan> = 22</text>
<line x1="534.80" y1="465.50" x2="534.80" y2="471.80" stroke="#000" stroke-width="1.4"/>
<text transform="translate(542.7,485.5) rotate(-45)" font-size="16.8" text-anchor="end">BLCA</text>
<rect x="557.94" y="426.30" width="37.6" height="32.80" fill="#e0992b"/>
<rect x="557.94" y="415.37" width="37.6" height="10.93" fill="#47a6d5"/>
<rect x="557.94" y="327.90" width="37.6" height="87.47" fill="#bd1f2e"/>
<text x="558.09" y="324.30" font-size="12" textLength="37.74" lengthAdjust="spacingAndGlyphs"><tspan font-style="italic">n</tspan> = 12</text>
<line x1="576.74" y1="465.50" x2="576.74" y2="471.80" stroke="#000" stroke-width="1.4"/>
<text transform="translate(579.4,484.4) rotate(-45)" font-size="16.8" text-anchor="end">Glioma</text>
<rect x="599.88" y="430.40" width="37.6" height="28.70" fill="#e0992b"/>
<rect x="599.88" y="336.10" width="37.6" height="94.30" fill="#47a6d5"/>
<rect x="599.88" y="327.90" width="37.6" height="8.20" fill="#bd1f2e"/>
<text x="600.03" y="324.30" font-size="12" textLength="37.74" lengthAdjust="spacingAndGlyphs"><tspan font-style="italic">n</tspan> = 32</text>
<line x1="618.68" y1="465.50" x2="618.68" y2="471.80" stroke="#000" stroke-width="1.4"/>
<text transform="translate(627.5,485) rotate(-45)" font-size="16.8" text-anchor="end">LUSC</text>
<rect x="299.50" y="311.90" width="344.40" height="153.60" fill="none" stroke="#000" stroke-width="1.4"/>
<rect x="414" y="526.8" width="19.8" height="19.6" fill="#bd1f2e"/>
<rect x="414" y="551" width="19.8" height="19.6" fill="#47a6d5"/>
<rect x="495.2" y="526.8" width="19.8" height="19.6" fill="#e0992b"/>
<text x="441.50" y="542.60" font-size="15.7" textLength="26.54" lengthAdjust="spacingAndGlyphs">Hot</text>
<text x="441.54" y="565.30" font-size="15.7" textLength="34.92" lengthAdjust="spacingAndGlyphs">Cold</text>
<text x="518.53" y="542.60" font-size="15.7" textLength="113.76" lengthAdjust="spacingAndGlyphs">Heterogeneous</text>
<text x="18.34" y="605.60" font-size="20.5" textLength="13.70" lengthAdjust="spacingAndGlyphs" stroke="#000" stroke-width="0.9"><tspan font-weight="bold">e</tspan></text>
<text x="50.23" y="602.50" font-size="16" textLength="419.50" lengthAdjust="spacingAndGlyphs">Multi-sample tumours with both small and large pairwise</text>
<text x="50.84" y="621.50" font-size="16" textLength="308.91" lengthAdjust="spacingAndGlyphs"><tspan font-style="italic">TCRA</tspan> T cell differences between samples</text>
<line x1="42.70" y1="812.00" x2="48.00" y2="812.00" stroke="#000" stroke-width="1.4"/>
<text x="32.27" y="816.70" font-size="13.3" textLength="8.28" lengthAdjust="spacingAndGlyphs">0</text>
<line x1="42.70" y1="783.40" x2="48.00" y2="783.40" stroke="#000" stroke-width="1.4"/>
<text x="19.95" y="788.10" font-size="13.3" textLength="20.71" lengthAdjust="spacingAndGlyphs">0.1</text>
<line x1="42.70" y1="754.80" x2="48.00" y2="754.80" stroke="#000" stroke-width="1.4"/>
<text x="19.95" y="759.50" font-size="13.3" textLength="20.71" lengthAdjust="spacingAndGlyphs">0.2</text>
<line x1="42.70" y1="726.20" x2="48.00" y2="726.20" stroke="#000" stroke-width="1.4"/>
<text x="19.84" y="730.90" font-size="13.3" textLength="20.71" lengthAdjust="spacingAndGlyphs">0.3</text>
<line x1="42.70" y1="697.60" x2="48.00" y2="697.60" stroke="#000" stroke-width="1.4"/>
<text x="19.62" y="702.30" font-size="13.3" textLength="20.71" lengthAdjust="spacingAndGlyphs">0.4</text>
<line x1="42.70" y1="669.00" x2="48.00" y2="669.00" stroke="#000" stroke-width="1.4"/>
<text x="19.84" y="673.70" font-size="13.3" textLength="20.71" lengthAdjust="spacingAndGlyphs">0.5</text>
<text transform="translate(12.00,850.55) rotate(-90)" font-size="14.5" textLength="215.74" lengthAdjust="spacingAndGlyphs">Pairwise SCNA heterogeniety</text>
<text x="138.03" y="859.00" font-size="16" textLength="227.49" lengthAdjust="spacingAndGlyphs"><tspan font-style="italic">TCRA</tspan> T cell fraction difference</text>
<text x="89.90" y="653.60" font-size="12.6" textLength="58.46" lengthAdjust="spacingAndGlyphs">All events</text>
<line x1="86.20" y1="735.80" x2="86.20" y2="812.00" stroke="#000" stroke-width="1.3"/>
<rect x="62.20" y="772.00" width="47.90" height="25.20" fill="#fff" stroke="#000" stroke-width="1.5"/>
<line x1="149.90" y1="702.60" x2="149.90" y2="812.00" stroke="#000" stroke-width="1.3"/>
<rect x="126.10" y="755.40" width="48.20" height="39.10" fill="#fff" stroke="#000" stroke-width="1.5"/>
<g stroke="#777" stroke-opacity="0.32" stroke-width="0.9"><line x1="86.2" y1="811.6" x2="149.9" y2="810.9"/><line x1="86.2" y1="810.6" x2="149.9" y2="809.0"/><line x1="86.2" y1="809.4" x2="149.9" y2="808.6"/><line x1="86.2" y1="808.9" x2="149.9" y2="811.9"/><line x1="86.2" y1="807.9" x2="149.9" y2="806.2"/><line x1="86.2" y1="807.0" x2="149.9" y2="807.2"/><line x1="86.2" y1="806.4" x2="149.9" y2="803.4"/><line x1="86.2" y1="805.2" x2="149.9" y2="803.8"/><line x1="86.2" y1="804.2" x2="149.9" y2="805.5"/><line x1="86.2" y1="803.2" x2="149.9" y2="801.8"/><line x1="86.2" y1="802.9" x2="149.9" y2="799.9"/><line x1="86.2" y1="801.8" x2="149.9" y2="796.2"/><line x1="86.2" y1="801.1" x2="149.9" y2="798.0"/><line x1="86.2" y1="799.6" x2="149.9" y2="801.3"/><line x1="86.2" y1="798.8" x2="149.9" y2="799.1"/><line x1="86.2" y1="798.4" x2="149.9" y2="791.9"/><line x1="86.2" y1="796.7" x2="149.9" y2="794.8"/><line x1="86.2" y1="795.9" x2="149.9" y2="793.0"/><line x1="86.2" y1="795.4" x2="149.9" y2="793.3"/><line x1="86.2" y1="794.6" x2="149.9" y2="786.7"/><line x1="86.2" y1="794.1" x2="149.9" y2="790.6"/><line x1="86.2" y1="793.4" x2="149.9" y2="789.9"/><line x1="86.2" y1="792.2" x2="149.9" y2="787.6"/><line x1="86.2" y1="791.8" x2="149.9" y2="787.8"/><line x1="86.2" y1="790.9" x2="149.9" y2="783.9"/><line x1="86.2" y1="790.0" x2="149.9" y2="795.3"/><line x1="86.2" y1="789.4" x2="149.9" y2="782.3"/><line x1="86.2" y1="788.2" x2="149.9" y2="789.5"/><line x1="86.2" y1="787.4" x2="149.9" y2="784.8"/><line x1="86.2" y1="786.3" x2="149.9" y2="785.3"/><line x1="86.2" y1="785.7" x2="149.9" y2="776.1"/><line x1="86.2" y1="784.8" x2="149.9" y2="769.1"/><line x1="86.2" y1="784.1" x2="149.9" y2="777.7"/><line x1="86.2" y1="783.2" x2="149.9" y2="773.1"/><line x1="86.2" y1="782.7" x2="149.9" y2="771.5"/><line x1="86.2" y1="782.1" x2="149.9" y2="783.2"/><line x1="86.2" y1="780.8" x2="149.9" y2="773.8"/><line x1="86.2" y1="780.1" x2="149.9" y2="780.4"/><line x1="86.2" y1="779.5" x2="149.9" y2="781.0"/><line x1="86.2" y1="778.9" x2="149.9" y2="778.8"/><line x1="86.2" y1="778.5" x2="149.9" y2="767.7"/><line x1="86.2" y1="777.8" x2="149.9" y2="763.1"/><line x1="86.2" y1="777.1" x2="149.9" y2="759.4"/><line x1="86.2" y1="776.5" x2="149.9" y2="769.6"/><line x1="86.2" y1="775.3" x2="149.9" y2="763.7"/><line x1="86.2" y1="774.9" x2="149.9" y2="761.7"/><line x1="86.2" y1="773.8" x2="149.9" y2="757.3"/><line x1="86.2" y1="773.5" x2="149.9" y2="750.3"/><line x1="86.2" y1="772.3" x2="149.9" y2="753.7"/><line x1="86.2" y1="771.1" x2="149.9" y2="757.7"/><line x1="86.2" y1="770.7" x2="149.9" y2="747.7"/><line x1="86.2" y1="767.6" x2="149.9" y2="765.1"/><line x1="86.2" y1="763.2" x2="149.9" y2="731.8"/><line x1="86.2" y1="761.8" x2="149.9" y2="738.8"/><line x1="86.2" y1="757.9" x2="149.9" y2="717.8"/><line x1="86.2" y1="756.9" x2="149.9" y2="725.5"/><line x1="86.2" y1="755.1" x2="149.9" y2="714.9"/><line x1="86.2" y1="751.1" x2="149.9" y2="744.7"/><line x1="86.2" y1="748.2" x2="149.9" y2="723.5"/><line x1="86.2" y1="746.9" x2="149.9" y2="730.8"/><line x1="86.2" y1="744.9" x2="149.9" y2="742.2"/><line x1="86.2" y1="741.7" x2="149.9" y2="709.2"/><line x1="86.2" y1="737.5" x2="149.9" y2="702.5"/><line x1="86.2" y1="735.5" x2="149.9" y2="712.4"/><line x1="86.2" y1="734.8" x2="149.9" y2="703.6"/><line x1="86.2" y1="734.8" x2="149.9" y2="702.5"/></g>
<g stroke="#333" stroke-opacity="0.5" stroke-width="0.8"><line x1="86.2" y1="791.4" x2="149.9" y2="746.0"/><line x1="86.2" y1="782.0" x2="149.9" y2="729.2"/><line x1="86.2" y1="785.6" x2="149.9" y2="702.6"/><line x1="86.2" y1="801.0" x2="149.9" y2="759.8"/><line x1="86.2" y1="799.1" x2="149.9" y2="717.9"/><line x1="86.2" y1="803.3" x2="149.9" y2="749.8"/><line x1="86.2" y1="773.1" x2="149.9" y2="719.0"/><line x1="86.2" y1="793.0" x2="149.9" y2="704.4"/><line x1="86.2" y1="798.0" x2="149.9" y2="718.6"/><line x1="86.2" y1="803.5" x2="149.9" y2="733.4"/><line x1="86.2" y1="746.0" x2="149.9" y2="771.6"/><line x1="86.2" y1="743.9" x2="149.9" y2="786.7"/><line x1="86.2" y1="752.4" x2="149.9" y2="788.6"/><line x1="86.2" y1="765.2" x2="149.9" y2="783.5"/><line x1="86.2" y1="738.0" x2="149.9" y2="730.5"/><line x1="86.2" y1="740.6" x2="149.9" y2="727.6"/><line x1="86.2" y1="720.7" x2="149.9" y2="792.0"/><line x1="86.2" y1="726.4" x2="149.9" y2="797.6"/><line x1="86.2" y1="729.8" x2="149.9" y2="783.1"/><line x1="86.2" y1="732.1" x2="149.9" y2="792.1"/><line x1="86.2" y1="734.0" x2="149.9" y2="795.3"/><line x1="86.2" y1="794.2" x2="149.9" y2="678.4"/><line x1="86.2" y1="785.2" x2="149.9" y2="683.7"/><line x1="86.2" y1="790.8" x2="149.9" y2="690.0"/></g>
<rect x="62.20" y="772.00" width="47.90" height="25.20" fill="none" stroke="#000" stroke-width="1.5"/>
<line x1="62.20" y1="783.70" x2="110.10" y2="783.70" stroke="#000" stroke-width="4.2"/>
<rect x="126.10" y="755.40" width="48.20" height="39.10" fill="none" stroke="#000" stroke-width="1.5"/>
<line x1="126.10" y1="779.60" x2="174.30" y2="779.60" stroke="#000" stroke-width="4.2"/>
<circle cx="86.20" cy="720.70" r="1.9" fill="#333"/>
<circle cx="86.20" cy="726.40" r="1.9" fill="#333"/>
<circle cx="86.20" cy="729.80" r="1.9" fill="#333"/>
<circle cx="86.20" cy="732.10" r="1.9" fill="#333"/>
<circle cx="86.20" cy="734.00" r="1.9" fill="#333"/>
<circle cx="149.90" cy="678.40" r="1.9" fill="#333"/>
<circle cx="149.90" cy="683.70" r="1.9" fill="#333"/>
<circle cx="149.90" cy="690.00" r="1.9" fill="#333"/>
<rect x="47.40" y="662.50" width="140.60" height="156.50" fill="none" stroke="#000" stroke-width="1.5"/>
<line x1="86.20" y1="818.80" x2="86.20" y2="823.50" stroke="#000" stroke-width="1.4"/>
<line x1="149.90" y1="818.80" x2="149.90" y2="823.50" stroke="#000" stroke-width="1.4"/>
<text x="64.27" y="837.80" font-size="13.3" textLength="42.79" lengthAdjust="spacingAndGlyphs">&lt;0.065</text>
<text x="125.33" y="837.80" font-size="13.3" textLength="45.55" lengthAdjust="spacingAndGlyphs">⩾0.065</text>
<text x="55.50" y="678.30" font-size="14" textLength="130.17" lengthAdjust="spacingAndGlyphs">Wilcoxon, <tspan font-style="italic">P</tspan> = 0.0025</text>
<text x="54.43" y="693.20" font-size="14" textLength="67.82" lengthAdjust="spacingAndGlyphs">ES = 0.347</text>
<text x="226.74" y="652.70" font-size="12.6" textLength="73.43" lengthAdjust="spacingAndGlyphs">Gain events</text>
<line x1="229.40" y1="760.60" x2="229.40" y2="812.00" stroke="#000" stroke-width="1.3"/>
<rect x="205.50" y="787.40" width="47.80" height="17.80" fill="#fff" stroke="#000" stroke-width="1.5"/>
<line x1="293.50" y1="751.40" x2="293.50" y2="812.00" stroke="#000" stroke-width="1.3"/>
<rect x="269.30" y="780.50" width="47.90" height="22.10" fill="#fff" stroke="#000" stroke-width="1.5"/>
<g stroke="#777" stroke-opacity="0.32" stroke-width="0.9"><line x1="229.4" y1="811.8" x2="293.5" y2="811.6"/><line x1="229.4" y1="811.4" x2="293.5" y2="811.1"/><line x1="229.4" y1="811.0" x2="293.5" y2="811.0"/><line x1="229.4" y1="810.6" x2="293.5" y2="810.1"/><line x1="229.4" y1="810.4" x2="293.5" y2="810.1"/><line x1="229.4" y1="810.0" x2="293.5" y2="808.9"/><line x1="229.4" y1="809.9" x2="293.5" y2="806.7"/><line x1="229.4" y1="809.4" x2="293.5" y2="809.5"/><line x1="229.4" y1="808.9" x2="293.5" y2="808.3"/><line x1="229.4" y1="808.7" x2="293.5" y2="807.3"/><line x1="229.4" y1="808.3" x2="293.5" y2="807.0"/><line x1="229.4" y1="808.2" x2="293.5" y2="808.1"/><line x1="229.4" y1="807.7" x2="293.5" y2="804.9"/><line x1="229.4" y1="807.5" x2="293.5" y2="803.5"/><line x1="229.4" y1="807.0" x2="293.5" y2="805.8"/><line x1="229.4" y1="806.7" x2="293.5" y2="803.4"/><line x1="229.4" y1="806.5" x2="293.5" y2="805.4"/><line x1="229.4" y1="806.1" x2="293.5" y2="801.1"/><line x1="229.4" y1="805.7" x2="293.5" y2="806.2"/><line x1="229.4" y1="805.2" x2="293.5" y2="803.0"/><line x1="229.4" y1="804.8" x2="293.5" y2="804.1"/><line x1="229.4" y1="804.7" x2="293.5" y2="801.5"/><line x1="229.4" y1="804.0" x2="293.5" y2="802.1"/><line x1="229.4" y1="803.8" x2="293.5" y2="800.5"/><line x1="229.4" y1="803.2" x2="293.5" y2="799.9"/><line x1="229.4" y1="803.0" x2="293.5" y2="798.0"/><line x1="229.4" y1="802.6" x2="293.5" y2="799.2"/><line x1="229.4" y1="801.9" x2="293.5" y2="801.9"/><line x1="229.4" y1="801.7" x2="293.5" y2="798.9"/><line x1="229.4" y1="801.3" x2="293.5" y2="796.7"/><line x1="229.4" y1="800.6" x2="293.5" y2="796.6"/><line x1="229.4" y1="800.2" x2="293.5" y2="795.8"/><line x1="229.4" y1="800.0" x2="293.5" y2="795.3"/><line x1="229.4" y1="799.3" x2="293.5" y2="799.6"/><line x1="229.4" y1="799.1" x2="293.5" y2="794.3"/><line x1="229.4" y1="798.6" x2="293.5" y2="797.3"/><line x1="229.4" y1="798.4" x2="293.5" y2="794.4"/><line x1="229.4" y1="797.7" x2="293.5" y2="795.0"/><line x1="229.4" y1="797.4" x2="293.5" y2="798.0"/><line x1="229.4" y1="796.9" x2="293.5" y2="793.3"/><line x1="229.4" y1="796.4" x2="293.5" y2="793.7"/><line x1="229.4" y1="796.2" x2="293.5" y2="789.6"/><line x1="229.4" y1="795.7" x2="293.5" y2="790.2"/><line x1="229.4" y1="795.3" x2="293.5" y2="791.2"/><line x1="229.4" y1="794.9" x2="293.5" y2="791.9"/><line x1="229.4" y1="794.5" x2="293.5" y2="792.2"/><line x1="229.4" y1="793.9" x2="293.5" y2="788.6"/><line x1="229.4" y1="793.3" x2="293.5" y2="788.9"/><line x1="229.4" y1="793.1" x2="293.5" y2="787.9"/><line x1="229.4" y1="792.3" x2="293.5" y2="785.4"/><line x1="229.4" y1="792.0" x2="293.5" y2="787.1"/><line x1="229.4" y1="791.5" x2="293.5" y2="784.2"/><line x1="229.4" y1="790.8" x2="293.5" y2="786.7"/><line x1="229.4" y1="790.5" x2="293.5" y2="783.1"/><line x1="229.4" y1="790.1" x2="293.5" y2="786.1"/><line x1="229.4" y1="789.5" x2="293.5" y2="785.0"/><line x1="229.4" y1="789.0" x2="293.5" y2="782.5"/><line x1="229.4" y1="788.8" x2="293.5" y2="774.9"/><line x1="229.4" y1="787.9" x2="293.5" y2="778.7"/><line x1="229.4" y1="787.9" x2="293.5" y2="781.0"/><line x1="229.4" y1="786.4" x2="293.5" y2="780.4"/><line x1="229.4" y1="784.9" x2="293.5" y2="774.2"/><line x1="229.4" y1="784.7" x2="293.5" y2="770.7"/><line x1="229.4" y1="782.3" x2="293.5" y2="765.4"/><line x1="229.4" y1="781.5" x2="293.5" y2="781.5"/><line x1="229.4" y1="779.9" x2="293.5" y2="782.1"/><line x1="229.4" y1="779.3" x2="293.5" y2="767.9"/><line x1="229.4" y1="777.9" x2="293.5" y2="769.3"/><line x1="229.4" y1="776.4" x2="293.5" y2="763.5"/><line x1="229.4" y1="774.0" x2="293.5" y2="766.3"/><line x1="229.4" y1="773.7" x2="293.5" y2="762.6"/><line x1="229.4" y1="771.6" x2="293.5" y2="759.0"/><line x1="229.4" y1="770.0" x2="293.5" y2="760.9"/><line x1="229.4" y1="768.7" x2="293.5" y2="776.5"/><line x1="229.4" y1="768.1" x2="293.5" y2="757.7"/><line x1="229.4" y1="766.8" x2="293.5" y2="754.4"/><line x1="229.4" y1="765.2" x2="293.5" y2="772.1"/><line x1="229.4" y1="763.5" x2="293.5" y2="752.0"/><line x1="229.4" y1="763.1" x2="293.5" y2="756.8"/><line x1="229.4" y1="760.9" x2="293.5" y2="753.3"/></g>
<g stroke="#333" stroke-opacity="0.5" stroke-width="0.8"><line x1="229.4" y1="795.6" x2="293.5" y2="755.7"/><line x1="229.4" y1="801.6" x2="293.5" y2="773.4"/><line x1="229.4" y1="796.7" x2="293.5" y2="783.4"/><line x1="229.4" y1="810.1" x2="293.5" y2="767.2"/><line x1="229.4" y1="801.4" x2="293.5" y2="779.4"/><line x1="229.4" y1="801.2" x2="293.5" y2="757.9"/><line x1="229.4" y1="787.0" x2="293.5" y2="804.6"/><line x1="229.4" y1="791.2" x2="293.5" y2="807.0"/><line x1="229.4" y1="769.9" x2="293.5" y2="805.5"/><line x1="229.4" y1="770.8" x2="293.5" y2="746.4"/></g>
<rect x="205.50" y="787.40" width="47.80" height="17.80" fill="none" stroke="#000" stroke-width="1.5"/>
<line x1="205.50" y1="796.80" x2="253.30" y2="796.80" stroke="#000" stroke-width="4.2"/>
<rect x="269.30" y="780.50" width="47.90" height="22.10" fill="none" stroke="#000" stroke-width="1.5"/>
<line x1="269.30" y1="793.40" x2="317.20" y2="793.40" stroke="#000" stroke-width="4.2"/>
<circle cx="293.50" cy="746.40" r="1.9" fill="#333"/>
<rect x="190.90" y="662.50" width="140.40" height="156.50" fill="none" stroke="#000" stroke-width="1.5"/>
<line x1="229.40" y1="818.80" x2="229.40" y2="823.50" stroke="#000" stroke-width="1.4"/>
<line x1="293.50" y1="818.80" x2="293.50" y2="823.50" stroke="#000" stroke-width="1.4"/>
<text x="207.56" y="837.80" font-size="13.3" textLength="44.03" lengthAdjust="spacingAndGlyphs">&lt;0.065</text>
<text x="266.09" y="837.80" font-size="13.3" textLength="46.80" lengthAdjust="spacingAndGlyphs">⩾0.065</text>
<text x="197.20" y="678.30" font-size="14" textLength="131.48" lengthAdjust="spacingAndGlyphs">Wilcoxon, <tspan font-style="italic">P</tspan> = 0.0056</text>
<text x="196.11" y="693.20" font-size="14" textLength="69.05" lengthAdjust="spacingAndGlyphs">ES = 0.318</text>
<text x="347.30" y="652.70" font-size="12.6" textLength="122.59" lengthAdjust="spacingAndGlyphs">Loss or LOH events</text>
<line x1="375.20" y1="766.60" x2="375.20" y2="812.00" stroke="#000" stroke-width="1.3"/>
<rect x="351.00" y="790.50" width="48.60" height="18.20" fill="#fff" stroke="#000" stroke-width="1.5"/>
<line x1="439.00" y1="758.70" x2="439.00" y2="812.00" stroke="#000" stroke-width="1.3"/>
<rect x="414.90" y="785.80" width="48.30" height="20.80" fill="#fff" stroke="#000" stroke-width="1.5"/>
<g stroke="#777" stroke-opacity="0.32" stroke-width="0.9"><line x1="375.2" y1="812.0" x2="439" y2="812.0"/><line x1="375.2" y1="811.8" x2="439" y2="811.5"/><line x1="375.2" y1="811.6" x2="439" y2="811.2"/><line x1="375.2" y1="811.4" x2="439" y2="811.6"/><line x1="375.2" y1="811.3" x2="439" y2="810.6"/><line x1="375.2" y1="811.2" x2="439" y2="810.9"/><line x1="375.2" y1="811.0" x2="439" y2="809.7"/><line x1="375.2" y1="810.7" x2="439" y2="809.2"/><line x1="375.2" y1="810.7" x2="439" y2="810.4"/><line x1="375.2" y1="810.5" x2="439" y2="809.0"/><line x1="375.2" y1="810.2" x2="439" y2="810.2"/><line x1="375.2" y1="810.1" x2="439" y2="807.2"/><line x1="375.2" y1="809.9" x2="439" y2="808.6"/><line x1="375.2" y1="809.8" x2="439" y2="809.6"/><line x1="375.2" y1="809.6" x2="439" y2="805.9"/><line x1="375.2" y1="809.6" x2="439" y2="808.0"/><line x1="375.2" y1="809.3" x2="439" y2="805.6"/><line x1="375.2" y1="809.1" x2="439" y2="807.8"/><line x1="375.2" y1="809.0" x2="439" y2="807.5"/><line x1="375.2" y1="808.8" x2="439" y2="808.3"/><line x1="375.2" y1="808.7" x2="439" y2="806.5"/><line x1="375.2" y1="808.6" x2="439" y2="806.9"/><line x1="375.2" y1="807.9" x2="439" y2="804.3"/><line x1="375.2" y1="807.6" x2="439" y2="808.8"/><line x1="375.2" y1="807.3" x2="439" y2="806.8"/><line x1="375.2" y1="806.9" x2="439" y2="805.1"/><line x1="375.2" y1="806.1" x2="439" y2="804.1"/><line x1="375.2" y1="805.9" x2="439" y2="802.2"/><line x1="375.2" y1="805.4" x2="439" y2="802.7"/><line x1="375.2" y1="804.9" x2="439" y2="803.6"/><line x1="375.2" y1="804.5" x2="439" y2="802.0"/><line x1="375.2" y1="804.0" x2="439" y2="803.4"/><line x1="375.2" y1="803.8" x2="439" y2="801.2"/><line x1="375.2" y1="803.2" x2="439" y2="799.8"/><line x1="375.2" y1="802.9" x2="439" y2="798.8"/><line x1="375.2" y1="802.2" x2="439" y2="800.7"/><line x1="375.2" y1="801.8" x2="439" y2="796.8"/><line x1="375.2" y1="801.7" x2="439" y2="797.9"/><line x1="375.2" y1="801.3" x2="439" y2="797.3"/><line x1="375.2" y1="800.8" x2="439" y2="798.5"/><line x1="375.2" y1="800.1" x2="439" y2="794.5"/><line x1="375.2" y1="799.9" x2="439" y2="800.5"/><line x1="375.2" y1="799.4" x2="439" y2="799.4"/><line x1="375.2" y1="799.1" x2="439" y2="797.4"/><line x1="375.2" y1="798.6" x2="439" y2="796.0"/><line x1="375.2" y1="798.2" x2="439" y2="795.3"/><line x1="375.2" y1="797.8" x2="439" y2="793.6"/><line x1="375.2" y1="797.3" x2="439" y2="791.4"/><line x1="375.2" y1="796.9" x2="439" y2="795.1"/><line x1="375.2" y1="796.3" x2="439" y2="792.0"/><line x1="375.2" y1="796.0" x2="439" y2="789.8"/><line x1="375.2" y1="795.5" x2="439" y2="788.8"/><line x1="375.2" y1="795.1" x2="439" y2="793.0"/><line x1="375.2" y1="794.6" x2="439" y2="790.5"/><line x1="375.2" y1="794.3" x2="439" y2="791.0"/><line x1="375.2" y1="794.1" x2="439" y2="789.6"/><line x1="375.2" y1="793.4" x2="439" y2="794.0"/><line x1="375.2" y1="793.0" x2="439" y2="792.6"/><line x1="375.2" y1="792.6" x2="439" y2="787.5"/><line x1="375.2" y1="792.3" x2="439" y2="786.7"/><line x1="375.2" y1="791.8" x2="439" y2="788.0"/><line x1="375.2" y1="791.6" x2="439" y2="788.3"/><line x1="375.2" y1="790.9" x2="439" y2="786.5"/><line x1="375.2" y1="790.6" x2="439" y2="786.0"/><line x1="375.2" y1="789.9" x2="439" y2="783.2"/><line x1="375.2" y1="789.1" x2="439" y2="784.8"/><line x1="375.2" y1="787.0" x2="439" y2="779.9"/><line x1="375.2" y1="785.8" x2="439" y2="777.2"/><line x1="375.2" y1="785.6" x2="439" y2="782.7"/><line x1="375.2" y1="783.7" x2="439" y2="773.6"/><line x1="375.2" y1="783.0" x2="439" y2="781.2"/><line x1="375.2" y1="782.2" x2="439" y2="775.0"/><line x1="375.2" y1="780.9" x2="439" y2="775.4"/><line x1="375.2" y1="779.2" x2="439" y2="778.0"/><line x1="375.2" y1="778.0" x2="439" y2="770.3"/><line x1="375.2" y1="777.8" x2="439" y2="771.9"/><line x1="375.2" y1="776.0" x2="439" y2="769.6"/><line x1="375.2" y1="775.5" x2="439" y2="768.6"/><line x1="375.2" y1="773.6" x2="439" y2="765.7"/><line x1="375.2" y1="772.9" x2="439" y2="759.7"/><line x1="375.2" y1="771.2" x2="439" y2="761.1"/><line x1="375.2" y1="769.9" x2="439" y2="761.5"/><line x1="375.2" y1="769.3" x2="439" y2="762.8"/><line x1="375.2" y1="767.7" x2="439" y2="767.5"/><line x1="375.2" y1="767.3" x2="439" y2="764.9"/></g>
<g stroke="#333" stroke-opacity="0.5" stroke-width="0.8"><line x1="375.2" y1="798.6" x2="439" y2="774.1"/><line x1="375.2" y1="807.6" x2="439" y2="774.9"/><line x1="375.2" y1="809.2" x2="439" y2="769.1"/><line x1="375.2" y1="795.6" x2="439" y2="773.6"/><line x1="375.2" y1="810.2" x2="439" y2="778.8"/><line x1="375.2" y1="803.5" x2="439" y2="767.8"/><line x1="375.2" y1="794.1" x2="439" y2="773.6"/><line x1="375.2" y1="769.7" x2="439" y2="803.1"/><line x1="375.2" y1="776.0" x2="439" y2="806.7"/><line x1="375.2" y1="774.9" x2="439" y2="801.9"/><line x1="375.2" y1="745.6" x2="439" y2="784.6"/><line x1="375.2" y1="748.2" x2="439" y2="770.5"/><line x1="375.2" y1="762.7" x2="439" y2="782.6"/><line x1="375.2" y1="801.5" x2="439" y2="720.1"/><line x1="375.2" y1="789.0" x2="439" y2="729.0"/><line x1="375.2" y1="782.2" x2="439" y2="730.6"/><line x1="375.2" y1="808.9" x2="439" y2="746.1"/><line x1="375.2" y1="793.8" x2="439" y2="754.5"/></g>
<rect x="351.00" y="790.50" width="48.60" height="18.20" fill="none" stroke="#000" stroke-width="1.5"/>
<line x1="351.00" y1="799.50" x2="399.60" y2="799.50" stroke="#000" stroke-width="4.2"/>
<rect x="414.90" y="785.80" width="48.30" height="20.80" fill="none" stroke="#000" stroke-width="1.5"/>
<line x1="414.90" y1="796.60" x2="463.20" y2="796.60" stroke="#000" stroke-width="4.2"/>
<circle cx="375.20" cy="745.60" r="1.9" fill="#333"/>
<circle cx="375.20" cy="748.20" r="1.9" fill="#333"/>
<circle cx="375.20" cy="762.70" r="1.9" fill="#333"/>
<circle cx="439.00" cy="720.10" r="1.9" fill="#333"/>
<circle cx="439.00" cy="729.00" r="1.9" fill="#333"/>
<circle cx="439.00" cy="730.60" r="1.9" fill="#333"/>
<circle cx="439.00" cy="746.10" r="1.9" fill="#333"/>
<circle cx="439.00" cy="754.50" r="1.9" fill="#333"/>
<rect x="336.70" y="662.50" width="140.70" height="156.50" fill="none" stroke="#000" stroke-width="1.5"/>
<line x1="375.20" y1="818.80" x2="375.20" y2="823.50" stroke="#000" stroke-width="1.4"/>
<line x1="439.00" y1="818.80" x2="439.00" y2="823.50" stroke="#000" stroke-width="1.4"/>
<text x="352.66" y="837.80" font-size="13.3" textLength="44.03" lengthAdjust="spacingAndGlyphs">&lt;0.065</text>
<text x="413.19" y="837.80" font-size="13.3" textLength="46.91" lengthAdjust="spacingAndGlyphs">⩾0.065</text>
<text x="342.50" y="678.30" font-size="14" textLength="123.69" lengthAdjust="spacingAndGlyphs">Wilcoxon, <tspan font-style="italic">P</tspan> = 0.028</text>
<text x="341.42" y="693.20" font-size="14" textLength="68.23" lengthAdjust="spacingAndGlyphs">ES = 0.253</text>
<text x="511.48" y="606.30" font-size="20.5" textLength="7.24" lengthAdjust="spacingAndGlyphs" stroke="#000" stroke-width="0.9"><tspan font-weight="bold">f</tspan></text>
<line x1="543.30" y1="800.80" x2="546.60" y2="800.80" stroke="#000" stroke-width="1.4"/>
<text x="531.91" y="805.30" font-size="12.7" textLength="7.91" lengthAdjust="spacingAndGlyphs">0</text>
<line x1="543.30" y1="764.15" x2="546.60" y2="764.15" stroke="#000" stroke-width="1.4"/>
<text x="520.15" y="768.65" font-size="12.7" textLength="19.77" lengthAdjust="spacingAndGlyphs">0.1</text>
<line x1="543.30" y1="727.50" x2="546.60" y2="727.50" stroke="#000" stroke-width="1.4"/>
<text x="520.15" y="732.00" font-size="12.7" textLength="19.77" lengthAdjust="spacingAndGlyphs">0.2</text>
<line x1="543.30" y1="690.85" x2="546.60" y2="690.85" stroke="#000" stroke-width="1.4"/>
<text x="520.04" y="695.35" font-size="12.7" textLength="19.77" lengthAdjust="spacingAndGlyphs">0.3</text>
<line x1="543.30" y1="654.20" x2="546.60" y2="654.20" stroke="#000" stroke-width="1.4"/>
<text x="519.92" y="658.70" font-size="12.7" textLength="19.77" lengthAdjust="spacingAndGlyphs">0.4</text>
<text transform="translate(507.80,784.09) rotate(-90)" font-size="14" textLength="123.32" lengthAdjust="spacingAndGlyphs"><tspan font-style="italic">TCRA</tspan> T cell fraction</text>
<line x1="580.20" y1="700.40" x2="580.20" y2="800.80" stroke="#000" stroke-width="1.5"/>
<line x1="634.80" y1="719.90" x2="634.80" y2="800.80" stroke="#000" stroke-width="1.5"/>
<rect x="558.70" y="735.30" width="41.70" height="41.20" fill="#fff" stroke="#000" stroke-width="1.6"/>
<rect x="614.60" y="756.80" width="41.20" height="30.60" fill="#fff" stroke="#000" stroke-width="1.6"/>
<line x1="558.70" y1="760.80" x2="600.40" y2="760.80" stroke="#000" stroke-width="3.6"/>
<line x1="614.60" y1="776.50" x2="655.80" y2="776.50" stroke="#555" stroke-width="1.6"/>
<g stroke-width="1.5"><line x1="580.2" y1="700.4" x2="634.8" y2="704.8" stroke="#98d38c"/><line x1="580.2" y1="700.4" x2="634.8" y2="719.9" stroke="#e6474f"/><line x1="580.2" y1="721.6" x2="634.8" y2="746.3" stroke="#ef5a2a"/><line x1="580.2" y1="731.2" x2="634.8" y2="747.8" stroke="#3aa845"/><line x1="580.2" y1="734.5" x2="634.8" y2="742.1" stroke="#f7a238"/><line x1="580.2" y1="734.5" x2="634.8" y2="795.2" stroke="#ef5a2a"/><line x1="580.2" y1="730.2" x2="634.8" y2="764.8" stroke="#2f7fc1"/><line x1="580.2" y1="740.2" x2="634.8" y2="749.2" stroke="#2f7fc1"/><line x1="580.2" y1="742.6" x2="634.8" y2="755.4" stroke="#e6474f"/><line x1="580.2" y1="743.0" x2="634.8" y2="772.4" stroke="#b8966a"/><line x1="580.2" y1="747.3" x2="634.8" y2="756.3" stroke="#e6474f"/><line x1="580.2" y1="752.5" x2="634.8" y2="757.7" stroke="#e6474f"/><line x1="580.2" y1="756.3" x2="634.8" y2="765.8" stroke="#e6474f"/><line x1="580.2" y1="756.3" x2="634.8" y2="774.3" stroke="#f7a238"/><line x1="580.2" y1="759.2" x2="634.8" y2="765.8" stroke="#e6474f"/><line x1="580.2" y1="760.6" x2="634.8" y2="764.8" stroke="#2f7fc1"/><line x1="580.2" y1="763.0" x2="634.8" y2="768.6" stroke="#e6474f"/><line x1="580.2" y1="763.9" x2="634.8" y2="773.4" stroke="#f7a238"/><line x1="580.2" y1="766.3" x2="634.8" y2="772.4" stroke="#98d38c"/><line x1="580.2" y1="768.2" x2="634.8" y2="768.2" stroke="#e6474f"/><line x1="580.2" y1="772.0" x2="634.8" y2="799.0" stroke="#b8966a"/><line x1="580.2" y1="772.4" x2="634.8" y2="788.6" stroke="#a6d0ea"/><line x1="580.2" y1="775.8" x2="634.8" y2="790.5" stroke="#3aa845"/><line x1="580.2" y1="776.2" x2="634.8" y2="776.2" stroke="#e6474f"/><line x1="580.2" y1="776.2" x2="634.8" y2="782.9" stroke="#f7a238"/><line x1="580.2" y1="783.8" x2="634.8" y2="776.2" stroke="#b8966a"/><line x1="580.2" y1="788.6" x2="634.8" y2="784.8" stroke="#f7a238"/><line x1="580.2" y1="794.7" x2="634.8" y2="800.0" stroke="#3aa845"/><line x1="580.2" y1="800.9" x2="634.8" y2="800.9" stroke="#e6474f"/><line x1="580.2" y1="800.0" x2="634.8" y2="799.0" stroke="#f7a238"/><line x1="580.2" y1="736.0" x2="634.8" y2="768.0" stroke="#e6474f"/><line x1="580.2" y1="745.0" x2="634.8" y2="780.0" stroke="#f4873c"/><line x1="580.2" y1="750.0" x2="634.8" y2="770.0" stroke="#f4873c"/><line x1="580.2" y1="766.0" x2="634.8" y2="775.0" stroke="#e6474f"/></g>
<line x1="580.20" y1="646.60" x2="634.80" y2="704.80" stroke="#b8966a" stroke-width="1.4"/>
<circle cx="580.20" cy="646.60" r="2.3" fill="#333"/>
<circle cx="634.80" cy="704.80" r="2.8" fill="#333"/>
<rect x="546.40" y="639.80" width="122.10" height="168.20" fill="none" stroke="#000" stroke-width="1.5"/>
<line x1="580.20" y1="808.00" x2="580.20" y2="812.50" stroke="#000" stroke-width="1.4"/>
<line x1="634.80" y1="808.00" x2="634.80" y2="812.50" stroke="#000" stroke-width="1.4"/>
<text x="582.80" y="654.20" font-size="13" textLength="59.92" lengthAdjust="spacingAndGlyphs">Wilcoxon,</text>
<text x="581.59" y="670.70" font-size="13" textLength="83.59" lengthAdjust="spacingAndGlyphs"><tspan font-style="italic">P</tspan> = 5.9 × 10<tspan dy="-5.46" font-size="8.84">−6</tspan></text>
<text x="581.36" y="690.80" font-size="13" textLength="60.03" lengthAdjust="spacingAndGlyphs">ES = 0.75</text>
<text x="537.58" y="826.10" font-size="13" textLength="48.23" lengthAdjust="spacingAndGlyphs">Tumour</text>
<text x="535.78" y="842.30" font-size="13" textLength="51.65" lengthAdjust="spacingAndGlyphs">samples</text>
<text x="539.21" y="858.40" font-size="13" textLength="44.78" lengthAdjust="spacingAndGlyphs">without</text>
<text x="521.05" y="875.00" font-size="13" textLength="80.19" lengthAdjust="spacingAndGlyphs">12q24.31–32</text>
<text x="550.84" y="891.40" font-size="13" textLength="24.91" lengthAdjust="spacingAndGlyphs">loss</text>
<text x="623.99" y="826.10" font-size="13" textLength="47.53" lengthAdjust="spacingAndGlyphs">Tumour</text>
<text x="621.37" y="842.30" font-size="13" textLength="52.47" lengthAdjust="spacingAndGlyphs">samples</text>
<text x="633.71" y="858.40" font-size="13" textLength="25.70" lengthAdjust="spacingAndGlyphs">with</text>
<text x="606.55" y="875.00" font-size="13" textLength="80.19" lengthAdjust="spacingAndGlyphs">12q24.31–32</text>
<text x="635.24" y="891.40" font-size="13" textLength="24.91" lengthAdjust="spacingAndGlyphs">loss</text>
<circle cx="105.50" cy="905.30" r="2.4" fill="#a6d0ea"/>
<text x="115.53" y="910.30" font-size="13" textLength="36.32" lengthAdjust="spacingAndGlyphs">BLCA</text>
<circle cx="164.30" cy="905.30" r="2.4" fill="#2f7fc1"/>
<text x="171.65" y="910.30" font-size="13" textLength="68.15" lengthAdjust="spacingAndGlyphs">BRCA ER+</text>
<circle cx="264.40" cy="904.90" r="2.4" fill="#98d38c"/>
<text x="273.34" y="910.30" font-size="13" textLength="86.28" lengthAdjust="spacingAndGlyphs">BRCA HER2+</text>
<circle cx="377.10" cy="904.90" r="2.4" fill="#3aa845"/>
<text x="386.58" y="910.30" font-size="13" textLength="36.22" lengthAdjust="spacingAndGlyphs">ESCA</text>
<circle cx="442.90" cy="904.60" r="2.4" fill="#b8966a"/>
<text x="453.66" y="910.30" font-size="13" textLength="43.81" lengthAdjust="spacingAndGlyphs">Glioma</text>
<circle cx="516.10" cy="904.60" r="2.4" fill="#e6474f"/>
<text x="525.26" y="910.30" font-size="13" textLength="32.32" lengthAdjust="spacingAndGlyphs">KIRC</text>
<circle cx="105.50" cy="928.80" r="2.4" fill="#ef5a2a"/>
<text x="115.53" y="934.50" font-size="13" textLength="36.98" lengthAdjust="spacingAndGlyphs">LUAD</text>
<circle cx="164.30" cy="928.50" r="2.4" fill="#f7a238"/>
<text x="173.85" y="934.50" font-size="13" textLength="74.51" lengthAdjust="spacingAndGlyphs">Lung (other)</text>
<circle cx="264.20" cy="929.30" r="2.4" fill="#f4873c"/>
<text x="271.13" y="934.50" font-size="13" textLength="37.08" lengthAdjust="spacingAndGlyphs">LUSC</text>
<circle cx="322.40" cy="929.30" r="2.4" fill="#c0a7d8"/>
<text x="330.22" y="934.50" font-size="13" textLength="99.97" lengthAdjust="spacingAndGlyphs">Lung carcinoma</text>
<circle cx="442.90" cy="928.50" r="2.4" fill="#7b5aa6"/>
<text x="453.76" y="934.50" font-size="13" textLength="40.69" lengthAdjust="spacingAndGlyphs">SKCM</text>
</svg></body></html>
